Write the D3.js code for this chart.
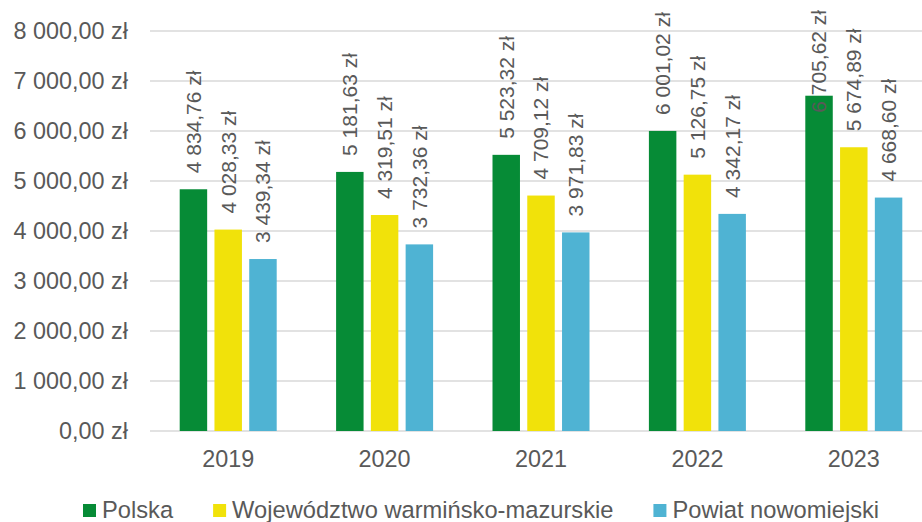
<!DOCTYPE html>
<html>
<head>
<meta charset="utf-8">
<script src="https://cdn.jsdelivr.net/npm/d3@7"></script>
<style>
  body { margin: 0; background: #fff; }
  text { font-family: "Liberation Sans", Arial, sans-serif; fill: #595959; }
</style>
</head>
<body>
<svg id="chart" width="922" height="522"></svg>
<script>
// --- data ---
const years = ["2019", "2020", "2021", "2022", "2023"];
const seriesNames = ["Polska", "Województwo warmińsko-mazurskie", "Powiat nowomiejski"];
const polska = [4834.76, 5181.63, 5523.32, 6001.02, 6705.62];
const wojewodztwo = [4028.33, 4319.51, 4709.12, 5126.75, 5674.89];
const powiat = [3439.34, 3732.36, 3971.83, 4342.17, 4668.60];
const yTicks = [0, 1000, 2000, 3000, 4000, 5000, 6000, 7000, 8000];
const colors = ["#068b36", "#f1e20a", "#4fb3d3"];

const series = [polska, wojewodztwo, powiat];

// --- format "4 834,76 zł" ---
const fmt = (v) => {
  const [i, d] = v.toFixed(2).split(".");
  return i.replace(/\B(?=(\d{3})+(?!\d))/g, " ") + "," + d + " zł";
};

const svg = d3.select("#chart");
const plotLeft = 150, plotRight = 932, plotTop = 31, plotBottom = 431;

const x0 = d3.scaleBand().domain(years).range([plotLeft, plotRight]);
const x1 = d3.scaleBand().domain([0, 1, 2]).range([0, 97]).paddingInner(0.21);
const groupOffset = (x0.bandwidth() - 97) / 2;
const y = d3.scaleLinear().domain([0, 8000]).range([plotBottom, plotTop]);

// gridlines
svg.append("g")
  .selectAll("line")
  .data(yTicks)
  .join("line")
  .attr("x1", plotLeft)
  .attr("x2", 922)
  .attr("y1", (d) => y(d))
  .attr("y2", (d) => y(d))
  .attr("stroke", "#d9d9d9")
  .attr("stroke-width", 1.5);

// y labels
svg.append("g")
  .selectAll("text")
  .data(yTicks)
  .join("text")
  .attr("x", 128)
  .attr("y", (d) => y(d))
  .attr("dy", "0.35em")
  .attr("text-anchor", "end")
  .attr("font-size", 23.4)
  .text((d) => fmt(d));

// bars
const bars = [];
series.forEach((vals, s) => {
  vals.forEach((v, i) => bars.push({ s, year: years[i], v }));
});

svg.append("g")
  .selectAll("rect")
  .data(bars)
  .join("rect")
  .attr("x", (d) => x0(d.year) + groupOffset + x1(d.s))
  .attr("y", (d) => y(d.v))
  .attr("width", x1.bandwidth())
  .attr("height", (d) => y(0) - y(d.v))
  .attr("fill", (d) => colors[d.s]);

// data labels, rotated, pushed down if they would leave the chart
const labels = svg.append("g");
bars.forEach((d) => {
  const cx = x0(d.year) + groupOffset + x1(d.s) + x1.bandwidth() / 2;
  const t = labels.append("text")
    .attr("font-size", 21)
    .attr("dy", "0.35em")
    .text(fmt(d.v));
  const len = t.node().getComputedTextLength();
  const startY = Math.max(y(d.v) - 16, 10 + len);
  t.attr("transform", `translate(${cx},${startY}) rotate(-90)`);
});

// x labels
svg.append("g")
  .selectAll("text")
  .data(years)
  .join("text")
  .attr("x", (d) => x0(d) + x0.bandwidth() / 2)
  .attr("y", 467)
  .attr("text-anchor", "middle")
  .attr("font-size", 23.4)
  .text((d) => d);

// legend
const legend = svg.append("g");
let lx = 83;
seriesNames.forEach((name, i) => {
  legend.append("rect")
    .attr("x", lx)
    .attr("y", 504)
    .attr("width", 13)
    .attr("height", 13)
    .attr("fill", colors[i]);
  const t = legend.append("text")
    .attr("x", lx + 19)
    .attr("y", 518)
    .attr("font-size", 23.7)
    .text(name);
  lx += 19 + t.node().getComputedTextLength() + 40;
});
</script>
</body>
</html>
